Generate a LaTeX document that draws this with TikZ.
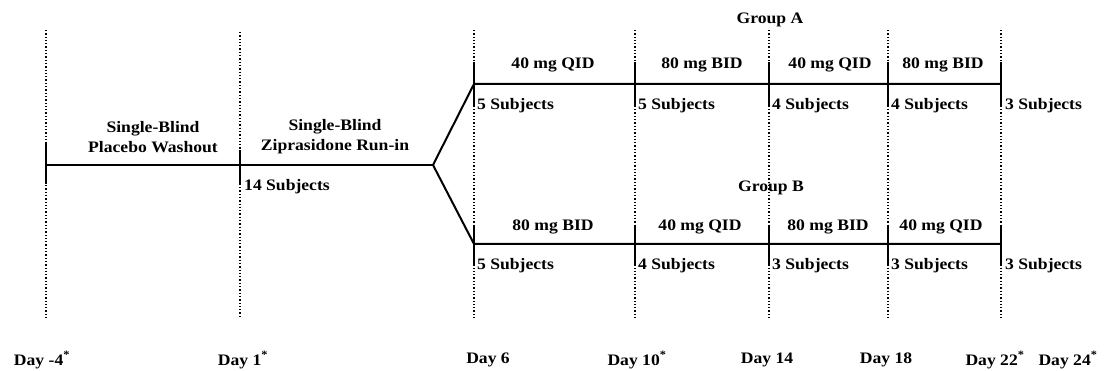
\documentclass[tikz,border=0pt]{standalone}
\usepackage{fontspec}
\setmainfont{Liberation Serif}[FakeStretch=1.1]
\begin{document}
\begin{tikzpicture}[x=1pt, y=-1pt, every node/.style={font=\bfseries\fontsize{16}{20}\selectfont, inner sep=1pt}]
    \tikzset{
        grid/.style={dotted, line width=1.3pt},
        arm/.style={line width=2pt},
        tick/.style={line width=2.2pt},
        dose/.style={anchor=base},
        count/.style={anchor=west},
    }
    \useasboundingbox (0,0) rectangle (1113,371);

    % Day grid
    \draw[grid] (46,30) -- (46,318);
    \draw[grid] (240,32) -- (240,318);
    \draw[grid] (474,30) -- (474,318);
    \draw[grid] (635,30) -- (635,318);
    \draw[grid] (769,30) -- (769,318);
    \draw[grid] (888,30) -- (888,318);
    \draw[grid] (1001,30) -- (1001,318);

    \node (dm4) at (42,360) {Day -4\textsuperscript{*}};
    \node (d1) at (243,360) {Day 1\textsuperscript{*}};
    \node (d6) at (488,360) {Day 6};
    \node (d10) at (637,360) {Day 10\textsuperscript{*}};
    \node (d14) at (767,360) {Day 14};
    \node (d18) at (886,360) {Day 18};
    \node (d22) at (995,360) {Day 22\textsuperscript{*}};
    \node (d24) at (1068,360) {Day 24\textsuperscript{*}};

    % Washout and run-in
    \coordinate (s0) at (46,165);
    \coordinate (s1) at (240,165);
    \coordinate (split) at (433,165);
    \draw[arm] (s0) -- (s1) -- (split);
    \draw[tick] (46,142) -- (46,184);
    \draw[tick] (240,150) -- (240,184);
    \node[align=center] (washout) at (153,137) {Single-Blind\\Placebo Washout};
    \node[align=center] (runin) at (335,137) {Single-Blind\\Ziprasidone Run-in};
    \node[count] (n14) at (243,187) {14 Subjects};

    % Group A
    \coordinate (a0) at (474,84);
    \coordinate (a1) at (635,84);
    \coordinate (a2) at (769,84);
    \coordinate (a3) at (888,84);
    \coordinate (a4) at (1001,84);
    \draw[arm] (split) -- (a0) -- (a4);
    \draw[tick] (474,62) -- (474,106);
    \draw[tick] (635,62) -- (635,106);
    \draw[tick] (769,62) -- (769,106);
    \draw[tick] (888,62) -- (888,106);
    \draw[tick] (1001,62) -- (1001,106);
    \node (groupa) at (770,20) {Group A};
    \node[dose] (a01) at (553,69) {40 mg QID};
    \node[dose] (a12) at (702,69) {80 mg BID};
    \node[dose] (a23) at (830,69) {40 mg QID};
    \node[dose] (a34) at (943,69) {80 mg BID};
    \node[count] (na0) at (476,106) {5 Subjects};
    \node[count] (na1) at (637,106) {5 Subjects};
    \node[count] (na2) at (771,106) {4 Subjects};
    \node[count] (na3) at (890,106) {4 Subjects};
    \node[count] (na4) at (1004,106) {3 Subjects};

    % Group B
    \coordinate (b0) at (474,244);
    \coordinate (b1) at (635,244);
    \coordinate (b2) at (769,244);
    \coordinate (b3) at (888,244);
    \coordinate (b4) at (1001,244);
    \draw[arm] (split) -- (b0) -- (b4);
    \draw[tick] (474,225) -- (474,266);
    \draw[tick] (635,225) -- (635,266);
    \draw[tick] (769,225) -- (769,266);
    \draw[tick] (888,225) -- (888,266);
    \draw[tick] (1001,225) -- (1001,266);
    \node (groupb) at (771,188) {Group B};
    \node[dose] (b01) at (553,231) {80 mg BID};
    \node[dose] (b12) at (700,231) {40 mg QID};
    \node[dose] (b23) at (828,231) {80 mg BID};
    \node[dose] (b34) at (941,231) {40 mg QID};
    \node[count] (nb0) at (476,266) {5 Subjects};
    \node[count] (nb1) at (637,266) {4 Subjects};
    \node[count] (nb2) at (771,266) {3 Subjects};
    \node[count] (nb3) at (890,266) {3 Subjects};
    \node[count] (nb4) at (1004,266) {3 Subjects};
\end{tikzpicture}
\end{document}
